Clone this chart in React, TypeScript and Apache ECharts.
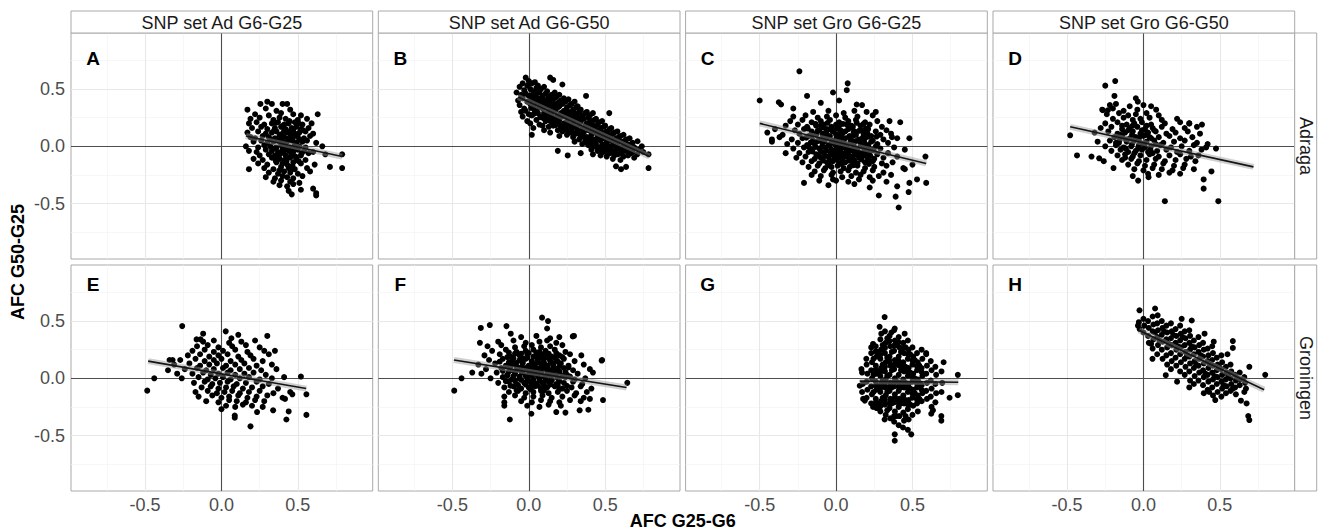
import React, { useEffect, useRef } from "react";
import * as echarts from "echarts";

const columnTitles = ["SNP set Ad G6-G25", "SNP set Ad G6-G50", "SNP set Gro G6-G25", "SNP set Gro G6-G50"];
const rowTitles = ["Adraga", "Groningen"];
const panelLetters = ["A", "B", "C", "D", "E", "F", "G", "H"];
const tickValues = [-0.5, 0, 0.5];
const majorBreaks = [-0.5, 0, 0.5];
const minorBreaks = [-0.75, -0.25, 0.25, 0.75];
const xTitle = "AFC G25-G6";
const yTitle = "AFC G50-G25";

const pointsA = [
[0.30,0.39],[0.33,0.37],[0.40,0.37],[0.43,0.37],[0.255,0.37],
[0.17,0.32],[0.29,0.33],[0.36,0.31],[0.45,0.32],
[0.63,0.28],[0.22,0.28],[0.31,0.27],[0.39,0.29],[0.47,0.28],[0.52,0.27],
[0.19,0.24],[0.25,0.25],[0.34,0.23],[0.38,0.25],[0.42,0.24],[0.50,0.23],[0.56,0.24],
[0.18,0.20],[0.23,0.21],[0.28,0.19],[0.33,0.20],[0.37,0.21],[0.41,0.19],[0.44,0.20],[0.48,0.21],[0.53,0.19],[0.59,0.20],
[0.20,0.16],[0.26,0.17],[0.30,0.15],[0.35,0.16],[0.39,0.17],[0.42,0.15],[0.46,0.16],[0.49,0.17],[0.52,0.15],[0.57,0.16],
[0.17,0.12],[0.24,0.13],[0.29,0.11],[0.33,0.12],[0.36,0.13],[0.40,0.11],[0.43,0.12],[0.45,0.13],[0.48,0.11],[0.51,0.12],[0.55,0.13],[0.60,0.11],
[0.19,0.08],[0.22,0.07],[0.27,0.09],[0.31,0.08],[0.35,0.07],[0.38,0.09],[0.41,0.08],[0.44,0.07],[0.47,0.09],[0.50,0.08],[0.54,0.07],[0.58,0.09],
[0.21,0.04],[0.26,0.05],[0.30,0.03],[0.34,0.04],[0.37,0.05],[0.40,0.03],[0.43,0.04],[0.46,0.05],[0.49,0.03],[0.53,0.04],[0.56,0.05],[0.62,0.03],
[0.16,0.00],[0.24,-0.01],[0.28,0.01],[0.32,0.00],[0.36,-0.01],[0.39,0.01],[0.42,0.00],[0.45,-0.01],[0.48,0.01],[0.51,0.00],[0.55,-0.01],[0.66,0.00],
[0.18,-0.04],[0.23,-0.05],[0.29,-0.03],[0.33,-0.04],[0.37,-0.05],[0.40,-0.03],[0.44,-0.04],[0.47,-0.05],[0.50,-0.03],[0.54,-0.04],[0.60,-0.05],
[0.79,-0.07],[0.25,-0.08],[0.31,-0.07],[0.35,-0.08],[0.39,-0.06],[0.42,-0.08],[0.46,-0.07],[0.52,-0.08],[0.57,-0.06],[0.68,-0.07],
[0.21,-0.11],[0.27,-0.12],[0.33,-0.10],[0.38,-0.11],[0.41,-0.12],[0.45,-0.10],[0.49,-0.11],[0.55,-0.12],
[0.24,-0.15],[0.30,-0.16],[0.36,-0.14],[0.40,-0.15],[0.43,-0.16],[0.47,-0.14],[0.52,-0.15],[0.61,-0.16],
[0.18,-0.20],[0.28,-0.19],[0.34,-0.20],[0.39,-0.18],[0.44,-0.19],[0.48,-0.20],[0.56,-0.19],[0.71,-0.18],[0.79,-0.19],
[0.31,-0.23],[0.37,-0.24],[0.41,-0.22],[0.45,-0.23],[0.50,-0.24],[0.58,-0.22],
[0.29,-0.27],[0.35,-0.28],[0.40,-0.26],[0.43,-0.27],[0.47,-0.28],[0.53,-0.26],
[0.34,-0.31],[0.39,-0.30],[0.45,-0.31],[0.51,-0.32],
[0.38,-0.34],[0.43,-0.35],[0.47,-0.33],[0.60,-0.37],
[0.52,-0.38],[0.44,-0.39],[0.62,-0.41],[0.46,-0.42],[0.62,-0.43],
[0.405,0.18],[0.455,0.14],[0.385,0.10],[0.465,0.06],[0.415,0.02],[0.435,-0.02],[0.375,-0.09],[0.485,-0.09],[0.425,-0.13],[0.465,-0.17]
];
const coreA = [
[0.355,0.205],[0.445,0.22],[0.505,0.2],[0.345,0.14],[0.41,0.135],[0.47,0.145],[0.535,0.14],[0.325,0.06],[0.395,0.055],[0.455,0.095],
[0.515,0.055],[0.345,-0.02],[0.405,-0.045],[0.465,-0.02],[0.525,-0.06],[0.355,-0.125],[0.435,-0.095],[0.505,-0.13],[0.38,-0.21],[0.455,-0.21]
];

const pointsB = [
[-0.08,0.47],[-0.07,0.40],[-0.06,0.52],[-0.05,0.45],[-0.06,0.36],[-0.05,0.30],
[-0.04,0.55],[-0.03,0.49],[-0.04,0.42],[-0.03,0.33],[-0.04,0.26],
[-0.02,0.60],[-0.01,0.53],[-0.02,0.46],[-0.01,0.39],[-0.02,0.31],[-0.01,0.22],
[0.00,0.57],[0.01,0.50],[0.00,0.44],[0.01,0.37],[0.00,0.28],[0.01,0.20],[0.02,0.10],
[0.02,0.55],[0.03,0.48],[0.02,0.41],[0.03,0.34],[0.02,0.27],[0.03,0.16],
[0.04,0.56],[0.05,0.51],[0.04,0.45],[0.05,0.38],[0.04,0.31],[0.05,0.23],
[0.06,0.53],[0.07,0.47],[0.06,0.42],[0.07,0.36],[0.06,0.29],[0.07,0.19],
[0.08,0.50],[0.09,0.44],[0.08,0.39],[0.09,0.33],[0.08,0.26],[0.09,0.18],
[0.10,0.52],[0.11,0.46],[0.10,0.40],[0.11,0.35],[0.10,0.29],[0.11,0.22],[0.10,0.14],
[0.12,0.48],[0.13,0.43],[0.12,0.37],[0.13,0.31],[0.12,0.25],[0.13,0.17],
[0.14,0.60],[0.15,0.45],[0.14,0.39],[0.15,0.34],[0.14,0.28],[0.15,0.21],[0.14,0.12],
[0.16,0.58],[0.17,0.47],[0.16,0.41],[0.17,0.36],[0.16,0.30],[0.17,0.24],[0.16,0.18],
[0.18,0.43],[0.19,0.38],[0.18,0.33],[0.19,0.27],[0.18,0.21],[0.19,0.14],[0.19,-0.04],
[0.20,0.45],[0.21,0.40],[0.20,0.35],[0.21,0.29],[0.20,0.23],[0.21,0.17],[0.20,0.09],
[0.22,0.54],[0.23,0.42],[0.22,0.37],[0.23,0.31],[0.22,0.26],[0.23,0.20],[0.22,0.13],
[0.24,0.39],[0.25,0.34],[0.24,0.28],[0.25,0.22],[0.24,0.16],[0.25,0.10],
[0.26,0.41],[0.27,0.36],[0.26,0.30],[0.27,0.25],[0.26,0.19],[0.27,0.12],[0.255,-0.08],
[0.28,0.37],[0.29,0.32],[0.28,0.27],[0.29,0.21],[0.28,0.15],[0.29,0.08],
[0.30,0.39],[0.31,0.34],[0.30,0.29],[0.31,0.23],[0.30,0.17],[0.31,0.11],[0.30,0.04],
[0.32,0.35],[0.33,0.30],[0.32,0.25],[0.33,0.19],[0.32,0.13],[0.33,0.06],
[0.34,0.32],[0.35,0.27],[0.34,0.21],[0.35,0.15],[0.34,0.09],[0.35,0.02],[0.34,-0.06],
[0.375,0.44],[0.37,0.29],[0.36,0.24],[0.37,0.18],[0.36,0.12],[0.37,0.05],
[0.38,0.30],[0.39,0.25],[0.38,0.20],[0.39,0.14],[0.38,0.08],[0.39,0.01],
[0.40,0.27],[0.41,0.22],[0.40,0.16],[0.41,0.10],[0.40,0.04],[0.41,-0.03],
[0.42,0.29],[0.43,0.23],[0.42,0.18],[0.43,0.12],[0.42,0.06],[0.43,0.00],[0.42,-0.07],
[0.44,0.24],[0.45,0.19],[0.44,0.14],[0.45,0.08],[0.44,0.02],[0.45,-0.04],
[0.46,0.21],[0.47,0.16],[0.46,0.10],[0.47,0.05],[0.46,-0.01],[0.47,-0.08],
[0.48,0.22],[0.49,0.17],[0.48,0.12],[0.49,0.07],[0.48,0.01],[0.49,-0.05],
[0.50,0.18],[0.51,0.13],[0.50,0.08],[0.51,0.03],[0.50,-0.02],[0.51,-0.09],
[0.527,0.29],[0.53,0.15],[0.52,0.10],[0.53,0.05],[0.52,0.00],[0.53,-0.06],
[0.54,0.16],[0.55,0.11],[0.54,0.06],[0.55,0.01],[0.54,-0.04],[0.55,-0.11],
[0.56,0.12],[0.57,0.07],[0.56,0.02],[0.57,-0.03],[0.56,-0.08],
[0.58,0.13],[0.59,0.08],[0.58,0.03],[0.59,-0.02],[0.58,-0.07],[0.571,-0.175],
[0.60,0.09],[0.61,0.04],[0.60,-0.01],[0.61,-0.05],[0.60,-0.12],[0.604,-0.20],
[0.62,0.10],[0.63,0.05],[0.62,0.00],[0.63,-0.04],[0.62,-0.09],
[0.64,0.06],[0.65,0.01],[0.64,-0.03],[0.65,-0.08],[0.637,-0.18],
[0.66,0.07],[0.67,0.02],[0.66,-0.02],[0.67,-0.06],
[0.68,0.03],[0.69,-0.01],[0.68,-0.05],[0.69,-0.10],
[0.712,0.044],[0.72,-0.03],[0.71,-0.07],
[0.74,0.00],[0.75,-0.05],
[0.784,-0.07],[0.784,-0.19]
];
const coreB = [
[0.015,0.445],[0.015,0.335],[0.035,0.405],[0.035,0.285],[0.055,0.465],[0.055,0.325],[0.075,0.415],[0.075,0.255],
[0.095,0.375],[0.095,0.245],[0.115,0.405],[0.115,0.275],[0.135,0.355],[0.135,0.225],[0.155,0.375],[0.155,0.255],
[0.175,0.315],[0.175,0.185],[0.195,0.345],[0.195,0.205],[0.215,0.275],[0.215,0.145],[0.235,0.305],[0.235,0.185],
[0.255,0.255],[0.255,0.135],[0.275,0.295],[0.275,0.175],[0.295,0.235],[0.295,0.115],[0.315,0.265],[0.315,0.155],
[0.335,0.225],[0.335,0.105],[0.355,0.245],[0.355,0.085],[0.375,0.165],[0.375,0.035],[0.395,0.205],[0.395,0.065],
[0.415,0.135],[0.415,0.015],[0.435,0.175],[0.435,0.045],[0.455,0.125],[0.455,-0.025],[0.475,0.095],[0.475,-0.035],
[0.495,0.115],[0.495,0.015],[0.515,0.065],[0.515,-0.045],[0.535,0.095],[0.535,-0.015],[0.555,0.045],[0.555,-0.055],
[0.575,0.015],[0.595,0.045],[0.595,-0.065],[0.615,-0.025],[0.635,0.025],[0.655,-0.045]
];

const pointsC = [
[-0.15,0.30],[-0.05,0.31],[0.05,0.29],[0.12,0.31],[0.20,0.30],
[-0.28,0.26],[-0.20,0.27],[-0.12,0.25],[-0.06,0.26],[0.00,0.27],[0.06,0.25],[0.14,0.26],[0.24,0.27],
[-0.30,0.22],[-0.22,0.23],[-0.16,0.21],[-0.10,0.22],[-0.04,0.23],[0.02,0.21],[0.08,0.22],[0.13,0.23],[0.19,0.21],[0.27,0.22],
[-0.33,0.18],[-0.25,0.19],[-0.19,0.17],[-0.13,0.18],[-0.08,0.19],[-0.03,0.17],[0.02,0.18],[0.07,0.19],[0.11,0.17],[0.16,0.18],[0.22,0.19],[0.30,0.17],
[-0.27,0.14],[-0.21,0.15],[-0.16,0.13],[-0.11,0.14],[-0.06,0.15],[-0.02,0.13],[0.03,0.14],[0.08,0.15],[0.12,0.13],[0.17,0.14],[0.21,0.15],[0.26,0.13],[0.33,0.14],
[-0.35,0.10],[-0.24,0.11],[-0.18,0.09],[-0.13,0.10],[-0.09,0.11],[-0.04,0.09],[0.00,0.10],[0.04,0.11],[0.09,0.09],[0.13,0.10],[0.18,0.11],[0.23,0.09],[0.29,0.10],[0.36,0.11],
[-0.29,0.06],[-0.22,0.07],[-0.15,0.05],[-0.11,0.06],[-0.06,0.07],[-0.02,0.05],[0.02,0.06],[0.06,0.07],[0.10,0.05],[0.15,0.06],[0.19,0.07],[0.24,0.05],[0.31,0.06],[0.40,0.07],
[-0.32,0.02],[-0.25,0.03],[-0.19,0.01],[-0.14,0.02],[-0.09,0.03],[-0.05,0.01],[-0.01,0.02],[0.03,0.03],[0.07,0.01],[0.11,0.02],[0.16,0.03],[0.21,0.01],[0.27,0.02],[0.34,0.03],
[-0.28,-0.02],[-0.21,-0.01],[-0.16,-0.03],[-0.11,-0.02],[-0.07,-0.01],[-0.03,-0.03],[0.01,-0.02],[0.05,-0.01],[0.09,-0.03],[0.13,-0.02],[0.18,-0.01],[0.23,-0.03],[0.29,-0.02],[0.38,-0.01],[0.45,-0.03],
[-0.24,-0.06],[-0.18,-0.05],[-0.13,-0.07],[-0.08,-0.06],[-0.04,-0.05],[0.00,-0.07],[0.04,-0.06],[0.08,-0.05],[0.12,-0.07],[0.16,-0.06],[0.21,-0.05],[0.27,-0.07],[0.34,-0.06],
[-0.26,-0.10],[-0.20,-0.09],[-0.14,-0.11],[-0.10,-0.10],[-0.05,-0.09],[-0.01,-0.11],[0.03,-0.10],[0.07,-0.09],[0.11,-0.11],[0.15,-0.10],[0.20,-0.09],[0.25,-0.11],[0.31,-0.10],[0.40,-0.09],
[-0.22,-0.14],[-0.16,-0.13],[-0.11,-0.15],[-0.06,-0.14],[-0.02,-0.13],[0.02,-0.15],[0.06,-0.14],[0.10,-0.13],[0.14,-0.15],[0.19,-0.14],[0.24,-0.13],[0.30,-0.15],[0.37,-0.14],
[-0.18,-0.18],[-0.12,-0.17],[-0.07,-0.19],[-0.03,-0.18],[0.01,-0.17],[0.05,-0.19],[0.09,-0.18],[0.14,-0.17],[0.19,-0.19],[0.25,-0.18],[0.33,-0.17],[0.44,-0.19],
[-0.14,-0.22],[-0.08,-0.21],[-0.02,-0.23],[0.03,-0.22],[0.08,-0.21],[0.13,-0.23],[0.18,-0.22],[0.24,-0.21],[0.31,-0.23],
[-0.10,-0.26],[-0.03,-0.25],[0.04,-0.27],[0.10,-0.26],[0.16,-0.25],[0.22,-0.27],[0.28,-0.26],[0.36,-0.25],
[0.00,-0.30],[0.08,-0.31],[0.15,-0.29],[0.24,-0.30],[0.33,-0.31],
[-0.135,0.195],[-0.055,0.205],[0.045,0.195],[0.135,0.205],
[-0.185,0.155],[-0.085,0.165],[0.005,0.155],[0.095,0.165],[0.195,0.155],
[-0.155,0.115],[-0.065,0.125],[0.025,0.115],[0.115,0.125],[0.205,0.115],
[-0.195,0.075],[-0.085,0.085],[0.005,0.075],[0.085,0.085],[0.175,0.075],[0.265,0.085],
[-0.165,0.035],[-0.075,0.045],[0.015,0.035],[0.095,0.045],[0.185,0.035],
[-0.135,-0.005],[-0.045,0.005],[0.035,-0.005],[0.115,0.005],[0.205,-0.005],
[-0.155,-0.045],[-0.065,-0.035],[0.025,-0.045],[0.105,-0.035],[0.185,-0.045],[0.245,-0.035],
[-0.115,-0.085],[-0.025,-0.075],[0.055,-0.085],[0.135,-0.075],[0.225,-0.085],
[-0.085,-0.125],[0.005,-0.115],[0.085,-0.125],[0.165,-0.115],
[-0.045,-0.165],[0.035,-0.155],[0.115,-0.165],[0.215,-0.155],
[-0.50,0.40],[-0.24,0.655],[0.076,0.55],[0.07,0.49],[-0.02,0.47],[-0.19,0.44],[-0.375,0.385],[-0.36,0.365],
[-0.42,0.06],[-0.42,0.04],[-0.37,0.08],[-0.33,-0.06],[-0.21,-0.32],[-0.16,-0.25],[-0.11,-0.30],[-0.02,-0.29],
[0.28,-0.43],[0.39,-0.44],[0.41,-0.535],[0.475,-0.40],[0.59,-0.32],[0.585,-0.09],[0.48,0.07],[0.42,0.21],
[0.366,0.08],[0.53,-0.29],[0.48,-0.32],[0.40,-0.35],[0.135,0.365],[-0.10,0.38],[0.02,0.40],[0.17,0.36],
[-0.28,0.33],[0.26,0.30],[0.35,0.22],[0.45,-0.20],[0.50,-0.16],[-0.40,0.15],[-0.45,0.12],[0.22,-0.36],[0.12,-0.33],[-0.05,-0.34]
];
const coreC = [
[-0.10,0.18],[0.00,0.19],[0.10,0.18],[0.18,0.195],[-0.12,0.135],[-0.03,0.14],[0.06,0.13],[0.15,0.135],[-0.16,0.09],[-0.06,0.095],
[0.03,0.085],[0.11,0.09],[0.21,0.085],[-0.12,0.045],[-0.03,0.04],[0.05,0.04],[0.13,0.045],[0.23,0.04],[-0.18,-0.005],[-0.09,0.0],
[0.00,0.005],[0.07,-0.005],[0.16,0.0],[0.26,0.0],[-0.10,-0.045],[-0.01,-0.04],[0.07,-0.045],[0.14,-0.04],[0.22,-0.05],[-0.07,-0.085],
[0.01,-0.08],[0.09,-0.085],[0.18,-0.08],[-0.04,-0.125],[0.04,-0.12],[0.12,-0.125],[0.21,-0.12]
];

const pointsD = [
[-0.22,0.36],[-0.18,0.37],[-0.09,0.35],[0.00,0.36],
[-0.27,0.32],[-0.20,0.33],[-0.13,0.31],[-0.04,0.32],[0.05,0.35],[0.083,0.32],
[-0.24,0.28],[-0.16,0.29],[-0.10,0.27],[-0.05,0.28],[0.02,0.29],[0.10,0.27],
[-0.20,0.24],[-0.13,0.25],[-0.07,0.23],[-0.02,0.24],[0.04,0.25],[0.12,0.23],[0.22,0.24],
[-0.25,0.20],[-0.17,0.21],[-0.11,0.19],[-0.06,0.20],[-0.01,0.21],[0.05,0.19],[0.14,0.20],[0.24,0.21],[0.30,0.20],
[-0.28,0.16],[-0.21,0.17],[-0.14,0.15],[-0.09,0.16],[-0.04,0.17],[0.01,0.15],[0.06,0.16],[0.12,0.17],[0.19,0.15],[0.27,0.16],[0.35,0.17],
[-0.32,0.12],[-0.23,0.13],[-0.17,0.11],[-0.12,0.12],[-0.07,0.13],[-0.02,0.11],[0.03,0.12],[0.08,0.13],[0.15,0.11],[0.21,0.12],[0.29,0.13],[0.37,0.11],
[-0.19,0.08],[-0.14,0.09],[-0.09,0.07],[-0.05,0.08],[0.00,0.09],[0.05,0.07],[0.10,0.08],[0.17,0.09],[0.24,0.07],[0.32,0.08],
[-0.30,0.04],[-0.22,0.05],[-0.16,0.03],[-0.11,0.04],[-0.06,0.05],[-0.02,0.03],[0.02,0.04],[0.07,0.05],[0.13,0.03],[0.20,0.04],[0.27,0.05],[0.35,0.03],
[-0.25,0.00],[-0.18,0.01],[-0.13,-0.01],[-0.08,0.00],[-0.03,0.01],[0.01,-0.01],[0.05,0.00],[0.11,0.01],[0.18,-0.01],[0.25,0.00],[0.33,0.01],[0.41,-0.01],
[-0.21,-0.04],[-0.15,-0.03],[-0.10,-0.05],[-0.05,-0.04],[-0.01,-0.03],[0.03,-0.05],[0.09,-0.04],[0.15,-0.03],[0.22,-0.05],[0.30,-0.04],[0.38,-0.03],
[-0.17,-0.08],[-0.12,-0.07],[-0.07,-0.09],[-0.02,-0.08],[0.04,-0.07],[0.10,-0.09],[0.17,-0.08],[0.24,-0.07],[0.31,-0.09],[0.36,-0.08],
[-0.14,-0.12],[-0.08,-0.11],[-0.03,-0.13],[0.02,-0.12],[0.08,-0.11],[0.14,-0.13],[0.21,-0.12],[0.28,-0.11],[0.34,-0.13],
[-0.10,-0.16],[-0.04,-0.15],[0.01,-0.17],[0.07,-0.16],[0.13,-0.15],[0.20,-0.17],[0.27,-0.16],
[-0.06,-0.20],[0.00,-0.21],[0.06,-0.19],[0.12,-0.20],[0.19,-0.21],[0.26,-0.19],[0.33,-0.20],
[0.03,-0.24],[0.10,-0.25],[0.17,-0.23],[0.24,-0.24],
[-0.115,0.06],[-0.035,0.06],[-0.075,0.02],[0.005,0.02],[-0.115,-0.02],[-0.035,-0.02],[-0.075,0.10],[0.015,0.10],[-0.155,0.06],[0.045,-0.03],
[-0.25,0.53],[-0.185,0.57],[-0.19,0.44],[-0.48,0.096],[-0.435,-0.08],[-0.34,-0.09],[-0.29,-0.105],[-0.26,-0.13],
[-0.196,-0.19],[-0.07,-0.26],[-0.035,-0.30],[0.033,-0.27],[0.14,-0.48],[0.49,-0.48],[0.394,-0.29],[0.394,-0.37],
[0.445,-0.22],[0.475,-0.02],[0.42,0.02],[0.383,0.19],[0.30,0.20],[-0.05,0.42],[-0.037,0.39],[-0.266,0.315],[-0.233,0.315]
];
const coreD = [
[-0.14,0.18],[-0.07,0.18],[0.02,0.18],[-0.10,0.14],[-0.01,0.14],[0.07,0.14],[-0.15,0.10],[-0.03,0.07],[0.04,0.08],[-0.18,0.03],
[0.08,0.02],[-0.06,-0.06],[0.06,-0.06],[-0.12,-0.10]
];

const pointsE = [
[-0.12,0.32],[-0.05,0.33],[0.05,0.31],[0.13,0.32],[0.22,0.33],
[-0.16,0.28],[-0.09,0.29],[-0.02,0.27],[0.07,0.28],[0.16,0.29],[0.25,0.27],
[-0.19,0.24],[-0.11,0.25],[-0.05,0.23],[0.01,0.24],[0.09,0.25],[0.17,0.23],[0.28,0.24],
[-0.22,0.20],[-0.14,0.21],[-0.08,0.19],[-0.02,0.20],[0.04,0.21],[0.11,0.19],[0.19,0.20],[0.31,0.21],
[-0.27,0.16],[-0.17,0.17],[-0.11,0.15],[-0.05,0.16],[0.00,0.17],[0.06,0.15],[0.13,0.16],[0.21,0.17],[0.27,0.15],
[-0.31,0.12],[-0.21,0.13],[-0.14,0.11],[-0.08,0.12],[-0.03,0.13],[0.03,0.11],[0.09,0.12],[0.15,0.13],[0.23,0.11],[0.33,0.12],
[-0.24,0.08],[-0.16,0.09],[-0.10,0.07],[-0.05,0.08],[0.01,0.09],[0.06,0.07],[0.12,0.08],[0.18,0.09],[0.26,0.07],[0.36,0.08],
[-0.19,0.04],[-0.12,0.05],[-0.07,0.03],[-0.02,0.04],[0.04,0.05],[0.09,0.03],[0.15,0.04],[0.21,0.05],[0.29,0.03],
[-0.26,0.00],[-0.15,0.01],[-0.09,-0.01],[-0.04,0.00],[0.01,0.01],[0.06,-0.01],[0.12,0.00],[0.18,0.01],[0.25,-0.01],[0.33,0.00],[0.41,0.01],
[-0.18,-0.04],[-0.11,-0.03],[-0.06,-0.05],[-0.01,-0.04],[0.04,-0.03],[0.10,-0.05],[0.16,-0.04],[0.23,-0.03],[0.31,-0.05],
[-0.13,-0.08],[-0.07,-0.07],[-0.02,-0.09],[0.03,-0.08],[0.08,-0.07],[0.14,-0.09],[0.20,-0.08],[0.27,-0.07],[0.37,-0.09],
[-0.17,-0.12],[-0.09,-0.11],[-0.03,-0.13],[0.02,-0.12],[0.07,-0.11],[0.12,-0.13],[0.18,-0.12],[0.25,-0.11],[0.34,-0.13],[0.45,-0.12],
[-0.15,-0.16],[-0.06,-0.15],[0.00,-0.17],[0.05,-0.16],[0.11,-0.15],[0.17,-0.17],[0.23,-0.16],[0.30,-0.15],[0.40,-0.17],
[-0.10,-0.20],[-0.02,-0.21],[0.05,-0.19],[0.10,-0.20],[0.16,-0.21],[0.22,-0.19],[0.28,-0.20],
[0.03,-0.24],[0.09,-0.25],[0.14,-0.23],[0.20,-0.24],[0.27,-0.25],
[-0.486,-0.108],[-0.44,0.0],[-0.257,0.456],[-0.12,0.39],[-0.163,0.34],[-0.137,0.34],[0.028,0.41],[0.11,0.38],
[0.065,0.35],[0.30,0.37],[0.35,0.24],[0.52,0.015],[0.556,-0.14],[0.556,-0.32],[0.425,-0.36],[0.44,-0.29],
[0.19,-0.42],[0.087,-0.325],[0.087,-0.345],[0.0,-0.27],[0.233,-0.295],[0.338,-0.28],[0.416,-0.18],[0.464,-0.14],
[-0.35,0.07],[-0.29,0.04],[-0.34,0.16],[-0.32,0.16]
];

const pointsF = [
[-0.05,0.36],[0.05,0.37],[0.14,0.35],[0.20,0.36],
[-0.20,0.32],[-0.10,0.33],[-0.02,0.31],[0.07,0.32],[0.12,0.33],[0.18,0.31],
[-0.27,0.28],[-0.18,0.29],[-0.09,0.27],[-0.03,0.28],[0.02,0.29],[0.08,0.27],[0.14,0.28],[0.22,0.29],
[-0.24,0.24],[-0.15,0.25],[-0.08,0.23],[-0.02,0.24],[0.03,0.25],[0.07,0.23],[0.11,0.24],[0.17,0.25],[0.24,0.23],
[-0.29,0.20],[-0.19,0.21],[-0.12,0.19],[-0.06,0.20],[-0.01,0.21],[0.03,0.19],[0.07,0.20],[0.11,0.21],[0.15,0.19],[0.20,0.20],[0.27,0.21],
[-0.26,0.16],[-0.17,0.17],[-0.11,0.15],[-0.06,0.16],[-0.02,0.17],[0.02,0.15],[0.06,0.16],[0.10,0.17],[0.14,0.15],[0.18,0.16],[0.23,0.17],[0.30,0.15],
[-0.33,0.12],[-0.22,0.13],[-0.15,0.11],[-0.09,0.12],[-0.04,0.13],[0.00,0.11],[0.04,0.12],[0.08,0.13],[0.12,0.11],[0.16,0.12],[0.21,0.13],[0.26,0.11],[0.36,0.12],
[-0.28,0.08],[-0.18,0.09],[-0.12,0.07],[-0.07,0.08],[-0.02,0.09],[0.02,0.07],[0.06,0.08],[0.10,0.09],[0.14,0.07],[0.18,0.08],[0.23,0.09],[0.29,0.07],[0.40,0.08],
[-0.31,0.04],[-0.21,0.05],[-0.14,0.03],[-0.09,0.04],[-0.04,0.05],[0.00,0.03],[0.04,0.04],[0.08,0.05],[0.12,0.03],[0.16,0.04],[0.20,0.05],[0.25,0.03],[0.32,0.04],[0.42,0.05],
[-0.25,0.00],[-0.17,0.01],[-0.11,-0.01],[-0.06,0.00],[-0.01,0.01],[0.03,-0.01],[0.07,0.00],[0.11,0.01],[0.15,-0.01],[0.19,0.00],[0.24,0.01],[0.30,-0.01],[0.37,0.00],
[-0.20,-0.04],[-0.13,-0.03],[-0.08,-0.05],[-0.03,-0.04],[0.01,-0.03],[0.05,-0.05],[0.09,-0.04],[0.13,-0.03],[0.18,-0.05],[0.23,-0.04],[0.29,-0.03],[0.35,-0.05],
[-0.16,-0.08],[-0.10,-0.07],[-0.05,-0.09],[0.00,-0.08],[0.04,-0.07],[0.08,-0.09],[0.12,-0.08],[0.17,-0.07],[0.22,-0.09],[0.28,-0.08],[0.34,-0.07],[0.41,-0.09],
[-0.13,-0.12],[-0.07,-0.11],[-0.02,-0.13],[0.03,-0.12],[0.08,-0.11],[0.13,-0.13],[0.19,-0.12],[0.25,-0.11],[0.31,-0.13],[0.38,-0.12],
[-0.16,-0.16],[-0.09,-0.15],[-0.03,-0.17],[0.03,-0.16],[0.09,-0.15],[0.15,-0.17],[0.22,-0.16],[0.30,-0.15],[0.36,-0.17],
[-0.05,-0.20],[0.02,-0.21],[0.08,-0.19],[0.14,-0.20],[0.20,-0.21],[0.27,-0.19],[0.34,-0.20],
[-0.01,-0.24],[0.07,-0.25],[0.13,-0.23],[0.21,-0.24],
[-0.13,0.225],[-0.05,0.215],[0.05,0.225],[0.13,0.215],
[-0.14,0.185],[-0.04,0.175],[0.05,0.185],[0.13,0.175],[0.22,0.185],
[-0.19,0.145],[-0.08,0.135],[0.02,0.145],[0.10,0.135],[0.19,0.145],
[-0.12,0.105],[-0.05,0.095],[0.04,0.105],[0.12,0.095],[0.20,0.105],[0.26,0.095],
[-0.17,0.065],[-0.09,0.055],[0.00,0.065],[0.08,0.055],[0.16,0.065],[0.24,0.055],
[-0.14,0.025],[-0.06,0.015],[0.02,0.025],[0.10,0.015],[0.18,0.025],[0.27,0.015],
[-0.15,-0.025],[-0.05,-0.015],[0.03,-0.025],[0.11,-0.015],[0.20,-0.025],
[-0.12,-0.065],[-0.02,-0.055],[0.06,-0.065],[0.14,-0.055],[0.25,-0.065],
[-0.08,-0.105],[0.01,-0.095],[0.10,-0.105],[0.20,-0.095],
[-0.488,-0.108],[-0.44,0.0],[-0.37,0.05],[-0.32,0.31],[-0.314,0.44],[-0.255,0.465],[-0.146,0.456],[-0.118,0.39],
[0.087,0.53],[0.126,0.50],[0.12,0.435],[0.296,0.37],[0.344,0.20],[0.48,0.16],[0.486,-0.19],[0.40,-0.18],
[0.39,-0.275],[0.333,-0.28],[0.24,-0.30],[0.18,-0.295],[0.017,-0.31],[-0.124,-0.36],[-0.16,-0.24],[-0.16,-0.21],
[0.645,-0.04],[0.477,0.155],[0.288,0.366]
];
const coreF = [
[-0.09,0.215],[0.00,0.22],[0.09,0.21],[0.18,0.22],[-0.10,0.175],[-0.01,0.18],[0.09,0.175],[0.17,0.18],[-0.13,0.14],[-0.04,0.14],
[0.06,0.14],[0.15,0.135],[-0.08,0.10],[0.01,0.10],[0.08,0.10],[0.16,0.10],[-0.13,0.06],[-0.05,0.06],[0.04,0.06],[0.12,0.06],
[0.20,0.06],[-0.10,0.02],[-0.02,0.02],[0.06,0.02],[0.14,0.02],[0.22,0.02],[-0.09,-0.02],[-0.01,-0.02],[0.07,-0.02],[0.15,-0.02],
[-0.07,-0.06],[0.02,-0.06],[0.10,-0.06],[0.19,-0.06]
];

const pointsG = [
[0.17,0.05],[0.175,-0.05],[0.17,-0.12],
[0.20,0.12],[0.205,0.04],[0.20,-0.03],[0.205,-0.10],[0.20,-0.17],
[0.23,0.22],[0.235,0.14],[0.23,0.07],[0.235,0.00],[0.23,-0.07],[0.235,-0.14],[0.23,-0.22],
[0.26,0.28],[0.265,0.19],[0.26,0.11],[0.265,0.04],[0.26,-0.03],[0.265,-0.10],[0.26,-0.18],[0.265,-0.26],
[0.29,0.34],[0.295,0.25],[0.29,0.17],[0.295,0.09],[0.29,0.02],[0.295,-0.05],[0.29,-0.12],[0.295,-0.20],[0.29,-0.29],
[0.32,0.41],[0.325,0.31],[0.32,0.22],[0.325,0.14],[0.32,0.06],[0.325,-0.01],[0.32,-0.08],[0.325,-0.15],[0.32,-0.23],[0.325,-0.32],
[0.35,0.37],[0.355,0.28],[0.35,0.19],[0.355,0.11],[0.35,0.03],[0.355,-0.04],[0.35,-0.11],[0.355,-0.18],[0.35,-0.26],[0.355,-0.35],
[0.38,0.42],[0.385,0.33],[0.38,0.24],[0.385,0.16],[0.38,0.08],[0.385,0.00],[0.38,-0.07],[0.385,-0.14],[0.38,-0.21],[0.385,-0.29],[0.38,-0.38],
[0.41,0.36],[0.415,0.27],[0.41,0.19],[0.415,0.11],[0.41,0.03],[0.415,-0.04],[0.41,-0.11],[0.415,-0.18],[0.41,-0.25],[0.415,-0.33],[0.41,-0.41],
[0.44,0.31],[0.445,0.22],[0.44,0.14],[0.445,0.06],[0.44,-0.01],[0.445,-0.08],[0.44,-0.15],[0.445,-0.22],[0.44,-0.30],[0.445,-0.37],
[0.47,0.33],[0.475,0.25],[0.47,0.17],[0.475,0.09],[0.47,0.02],[0.475,-0.05],[0.47,-0.12],[0.475,-0.19],[0.47,-0.27],[0.475,-0.36],[0.47,-0.45],
[0.50,0.27],[0.505,0.19],[0.50,0.12],[0.505,0.04],[0.50,-0.03],[0.505,-0.10],[0.50,-0.17],[0.505,-0.24],[0.50,-0.32],
[0.53,0.22],[0.535,0.14],[0.53,0.07],[0.535,-0.01],[0.53,-0.08],[0.535,-0.15],[0.53,-0.22],[0.535,-0.29],
[0.56,0.25],[0.565,0.17],[0.56,0.09],[0.565,0.02],[0.56,-0.06],[0.565,-0.13],[0.56,-0.20],
[0.59,0.21],[0.595,0.11],[0.59,0.04],[0.595,-0.04],[0.59,-0.11],[0.595,-0.18],
[0.62,0.15],[0.625,0.07],[0.62,-0.02],[0.625,-0.09],[0.62,-0.16],[0.625,-0.25],
[0.65,0.10],[0.655,0.03],[0.65,-0.05],[0.655,-0.13],[0.65,-0.21],
[0.69,0.06],[0.695,-0.04],[0.69,-0.12],
[0.245,0.17],[0.245,0.03],[0.245,-0.12],[0.275,0.23],[0.275,0.06],[0.275,-0.07],[0.275,-0.22],
[0.305,0.29],[0.305,0.12],[0.305,-0.02],[0.305,-0.17],[0.335,0.35],[0.335,0.18],[0.335,0.02],[0.335,-0.12],[0.335,-0.28],
[0.365,0.23],[0.365,0.07],[0.365,-0.08],[0.365,-0.22],[0.395,0.29],[0.395,0.12],[0.395,-0.03],[0.395,-0.18],[0.395,-0.33],
[0.425,0.23],[0.425,0.07],[0.425,-0.08],[0.425,-0.22],[0.455,0.27],[0.455,0.10],[0.455,-0.04],[0.455,-0.19],[0.455,-0.33],
[0.485,0.21],[0.485,0.05],[0.485,-0.09],[0.485,-0.23],[0.515,0.16],[0.515,0.00],[0.515,-0.13],[0.545,0.11],[0.545,-0.04],[0.545,-0.18],
[0.318,0.535],[0.285,0.45],[0.296,0.39],[0.384,0.434],[0.362,0.40],[0.449,0.39],[0.242,0.30],[0.23,0.27],
[0.59,0.22],[0.704,0.14],[0.797,0.03],[0.797,-0.148],[0.743,-0.17],[0.689,-0.33],[0.689,-0.37],[0.634,-0.28],
[0.623,-0.31],[0.384,-0.49],[0.384,-0.546],[0.492,-0.49],[0.438,-0.43],[0.318,-0.36],[0.242,-0.25],[0.177,-0.18],
[0.188,-0.195],[0.155,-0.065],[0.166,0.08],[0.198,0.17]
];
const coreG = [
[0.26,0.235],[0.26,0.075],[0.26,-0.065],[0.26,-0.215],[0.29,0.205],[0.29,0.055],[0.29,-0.085],[0.29,-0.245],[0.32,0.265],[0.32,0.10],
[0.32,-0.045],[0.32,-0.19],[0.35,0.325],[0.35,0.15],[0.35,-0.075],[0.35,-0.22],[0.38,0.285],[0.38,0.12],[0.38,-0.035],[0.38,-0.175],
[0.38,-0.33],[0.41,0.315],[0.41,0.15],[0.41,-0.075],[0.41,-0.215],[0.44,0.265],[0.44,0.10],[0.44,-0.045],[0.44,-0.19],[0.47,0.21],
[0.47,0.055],[0.47,-0.085],[0.47,-0.23],[0.50,0.155],[0.50,0.005],[0.50,-0.135],[0.53,0.105],[0.53,-0.045],[0.53,-0.185],[0.56,0.055],[0.56,-0.10]
];

const pointsH = [
[-0.03,0.49],[-0.025,0.43],
[0.00,0.52],[0.005,0.46],[0.00,0.40],
[0.03,0.50],[0.035,0.44],[0.03,0.37],[0.035,0.31],
[0.06,0.54],[0.065,0.47],[0.06,0.41],[0.065,0.34],[0.06,0.26],
[0.09,0.48],[0.095,0.42],[0.09,0.36],[0.095,0.29],[0.09,0.21],
[0.12,0.50],[0.125,0.44],[0.12,0.38],[0.125,0.32],[0.12,0.25],[0.125,0.17],
[0.15,0.46],[0.155,0.40],[0.15,0.34],[0.155,0.27],[0.15,0.20],[0.155,0.12],
[0.18,0.48],[0.185,0.41],[0.18,0.35],[0.185,0.29],[0.18,0.22],[0.185,0.15],[0.18,0.08],
[0.21,0.43],[0.215,0.37],[0.21,0.31],[0.215,0.25],[0.21,0.18],[0.215,0.11],
[0.24,0.46],[0.245,0.39],[0.24,0.33],[0.245,0.27],[0.24,0.21],[0.245,0.14],[0.24,0.06],
[0.27,0.41],[0.275,0.35],[0.27,0.29],[0.275,0.23],[0.27,0.17],[0.275,0.10],[0.27,0.03],
[0.30,0.42],[0.305,0.37],[0.30,0.31],[0.305,0.25],[0.30,0.19],[0.305,0.13],[0.30,0.06],[0.305,-0.02],
[0.33,0.33],[0.335,0.27],[0.33,0.21],[0.335,0.15],[0.33,0.09],[0.335,0.02],[0.33,-0.05],
[0.36,0.36],[0.365,0.29],[0.36,0.23],[0.365,0.17],[0.36,0.11],[0.365,0.05],[0.36,-0.02],
[0.39,0.31],[0.395,0.25],[0.39,0.19],[0.395,0.13],[0.39,0.07],[0.395,0.01],[0.39,-0.06],[0.395,-0.13],
[0.42,0.26],[0.425,0.20],[0.42,0.15],[0.425,0.09],[0.42,0.03],[0.425,-0.03],[0.42,-0.10],
[0.45,0.28],[0.455,0.22],[0.45,0.16],[0.455,0.11],[0.45,0.05],[0.455,-0.01],[0.45,-0.08],[0.455,-0.15],
[0.48,0.18],[0.485,0.12],[0.48,0.07],[0.485,0.01],[0.48,-0.05],[0.485,-0.12],
[0.51,0.20],[0.515,0.14],[0.51,0.08],[0.515,0.03],[0.51,-0.03],[0.515,-0.09],[0.51,-0.16],
[0.54,0.10],[0.545,0.05],[0.54,-0.01],[0.545,-0.07],[0.54,-0.13],
[0.57,0.12],[0.575,0.06],[0.57,0.00],[0.575,-0.05],[0.57,-0.11],
[0.60,0.03],[0.605,-0.02],[0.60,-0.08],[0.605,-0.14],
[0.63,0.05],[0.635,-0.01],[0.63,-0.06],
[0.66,0.01],[0.665,-0.04],[0.66,-0.12],
[-0.026,0.594],[0.076,0.61],[0.093,0.55],[-0.036,0.46],[0.25,0.52],[0.316,0.505],[0.40,0.39],[0.46,0.32],
[0.585,0.325],[0.585,0.265],[0.55,0.21],[0.693,0.10],[0.797,0.03],[0.671,-0.09],[0.638,-0.196],[0.675,-0.22],
[0.686,-0.33],[0.693,-0.365],[0.47,-0.19],[0.43,-0.12],[0.30,-0.08],[0.22,-0.03],[0.146,0.027],[0.059,0.17],[0.05,0.30]
];
const coreH = [
[0.075,0.40],[0.105,0.33],[0.135,0.41],[0.165,0.30],[0.195,0.38],[0.225,0.28],[0.255,0.36],[0.285,0.20],[0.315,0.28],[0.345,0.12],
[0.375,0.20],[0.405,0.04],[0.435,0.12],[0.465,0.02],[0.495,0.10],[0.525,-0.06],[0.555,0.02],[0.585,-0.09],[0.615,0.00]
];

const fitA = [[0.16, 0.09], [0.79, -0.09]];
const fitB = [[-0.07, 0.43], [0.79, -0.09]];
const fitC = [[-0.50, 0.20], [0.59, -0.15]];
const fitD = [[-0.48, 0.17], [0.72, -0.18]];
const fitE = [[-0.48, 0.15], [0.555, -0.09]];
const fitF = [[-0.49, 0.16], [0.64, -0.08]];
const fitG = [[0.155, -0.025], [0.80, -0.035]];
const fitH = [[-0.03, 0.42], [0.79, -0.10]];

const panelPoints = [
  pointsA.concat(coreA), pointsB.concat(coreB), pointsC.concat(coreC), pointsD.concat(coreD),
  pointsE, pointsF.concat(coreF), pointsG.concat(coreG), pointsH.concat(coreH),
];
const panelFits = [fitA, fitB, fitC, fitD, fitE, fitF, fitG, fitH];

const AXIS_MIN = -0.985;
const AXIS_MAX = 0.99;

const FONT = "'Liberation Sans', Arial, Helvetica, sans-serif";
const COL_LEFT = [71, 378.3, 685.6, 993];
const PW = 301.7;
const ROW_TOP = [33, 265];
const PH = 226;
const BORDER = "#a9a9a9";

function fmt(v: number) {
  return v.toFixed(1);
}

function buildOption() {
  const grid: any[] = [];
  const xAxis: any[] = [];
  const yAxis: any[] = [];
  const series: any[] = [];
  const graphic: any[] = [];

  for (let i = 0; i < 8; i++) {
    const r = Math.floor(i / 4);
    const c = i % 4;
    grid.push({
      left: COL_LEFT[c], top: ROW_TOP[r], width: PW, height: PH,
      show: true, borderColor: BORDER, borderWidth: 1, backgroundColor: "#fff",
      containLabel: false, outerBoundsMode: "none",
    });
    xAxis.push({
      gridIndex: i, type: "value", min: AXIS_MIN, max: AXIS_MAX,
      axisLine: { show: false }, axisTick: { show: false }, splitLine: { show: false },
      axisLabel: r === 1
        ? { show: true, customValues: tickValues, formatter: fmt, fontSize: 18, color: "#4d4d4d", fontFamily: FONT, margin: 5 }
        : { show: false },
    });
    yAxis.push({
      gridIndex: i, type: "value", min: AXIS_MIN, max: AXIS_MAX,
      axisLine: { show: false }, axisTick: { show: false }, splitLine: { show: false },
      axisLabel: c === 0
        ? { show: true, customValues: tickValues, formatter: fmt, fontSize: 18, color: "#4d4d4d", fontFamily: FONT, margin: 6 }
        : { show: false },
    });

    const gl = (axis: string, v: number, minor: boolean) => ({
      [axis]: v,
      lineStyle: { type: "solid", color: minor ? "#f3f3f3" : "#e8e8e8", width: minor ? 0.7 : 1.1 },
    });
    series.push({
      type: "scatter", xAxisIndex: i, yAxisIndex: i, data: [], silent: true, z: 0,
      markLine: {
        z: 0, silent: true, symbol: ["none", "none"], label: { show: false }, animation: false,
        lineStyle: { type: "solid" },
        data: [
          ...minorBreaks.map((v) => gl("xAxis", v, true)),
          ...minorBreaks.map((v) => gl("yAxis", v, true)),
          ...majorBreaks.map((v) => gl("xAxis", v, false)),
          ...majorBreaks.map((v) => gl("yAxis", v, false)),
        ],
      },
    });
    series.push({
      type: "scatter", xAxisIndex: i, yAxisIndex: i, data: [], silent: true, z: 1,
      markLine: {
        z: 1, silent: true, symbol: ["none", "none"], label: { show: false }, animation: false,
        lineStyle: { type: "solid", color: "#4d4d4d", width: 1.1 },
        data: [{ xAxis: 0 }, { yAxis: 0 }],
      },
    });
    series.push({
      type: "scatter", xAxisIndex: i, yAxisIndex: i, data: panelPoints[i], silent: true, z: 3,
      symbolSize: 6, itemStyle: { color: "#000", opacity: 1, borderWidth: 0 },
    });
    series.push({
      type: "line", xAxisIndex: i, yAxisIndex: i, data: panelFits[i], silent: true, z: 4,
      symbol: "none", lineStyle: { width: 6, color: "rgba(150,150,150,0.45)" },
    });
    series.push({
      type: "line", xAxisIndex: i, yAxisIndex: i, data: panelFits[i], silent: true, z: 5,
      symbol: "none", lineStyle: { width: 1.6, color: "#141414" },
    });

    graphic.push({
      type: "text", x: COL_LEFT[c] + 22, y: r === 0 ? 58.5 : 284.5, z: 100,
      style: {
        text: panelLetters[i], fontSize: 19, fontWeight: "bold", fontFamily: FONT, fill: "#000",
        align: "center", verticalAlign: "middle", textAlign: "center", textVerticalAlign: "middle",
      },
    });
  }

  for (let c = 0; c < 4; c++) {
    graphic.push({
      type: "rect", z: 100,
      shape: { x: COL_LEFT[c], y: 11, width: PW, height: 22 },
      style: { fill: "#fff", stroke: BORDER, lineWidth: 1 },
    });
    graphic.push({
      type: "text", x: COL_LEFT[c] + PW / 2, y: 22.5, z: 101,
      style: {
        text: columnTitles[c], fontSize: 18, fontFamily: FONT, fill: "#1a1a1a",
        align: "center", verticalAlign: "middle", textAlign: "center", textVerticalAlign: "middle",
      },
    });
  }
  for (let r = 0; r < 2; r++) {
    graphic.push({
      type: "rect", z: 100,
      shape: { x: COL_LEFT[3] + PW, y: ROW_TOP[r], width: 22, height: PH },
      style: { fill: "#fff", stroke: BORDER, lineWidth: 1 },
    });
    graphic.push({
      type: "text", x: COL_LEFT[3] + PW + 11.5, y: ROW_TOP[r] + PH / 2, rotation: -Math.PI / 2, z: 101,
      style: {
        text: rowTitles[r], fontSize: 18, fontFamily: FONT, fill: "#1a1a1a",
        align: "center", verticalAlign: "middle", textAlign: "center", textVerticalAlign: "middle",
      },
    });
  }
  graphic.push({
    type: "text", x: (COL_LEFT[0] + COL_LEFT[3] + PW) / 2, y: 521, z: 101,
    style: {
      text: xTitle, fontSize: 18, fontWeight: "bold", fontFamily: FONT, fill: "#000",
      align: "center", verticalAlign: "middle", textAlign: "center", textVerticalAlign: "middle",
    },
  });
  graphic.push({
    type: "text", x: 18, y: (ROW_TOP[0] + ROW_TOP[1] + PH) / 2, rotation: Math.PI / 2, z: 101,
    style: {
      text: yTitle, fontSize: 18, fontWeight: "bold", fontFamily: FONT, fill: "#000",
      align: "center", verticalAlign: "middle", textAlign: "center", textVerticalAlign: "middle",
    },
  });

  return {
    animation: false,
    backgroundColor: "#fff",
    grid, xAxis, yAxis, series, graphic,
  };
}

export default function App() {
  const ref = useRef<HTMLDivElement>(null);
  useEffect(() => {
    document.body.style.margin = "0";
    const chart = echarts.init(ref.current as HTMLDivElement, undefined, { renderer: "svg" });
    chart.setOption(buildOption() as any);
    return () => chart.dispose();
  }, []);
  return <div ref={ref} style={{ width: 1319, height: 530 }} />;
}
